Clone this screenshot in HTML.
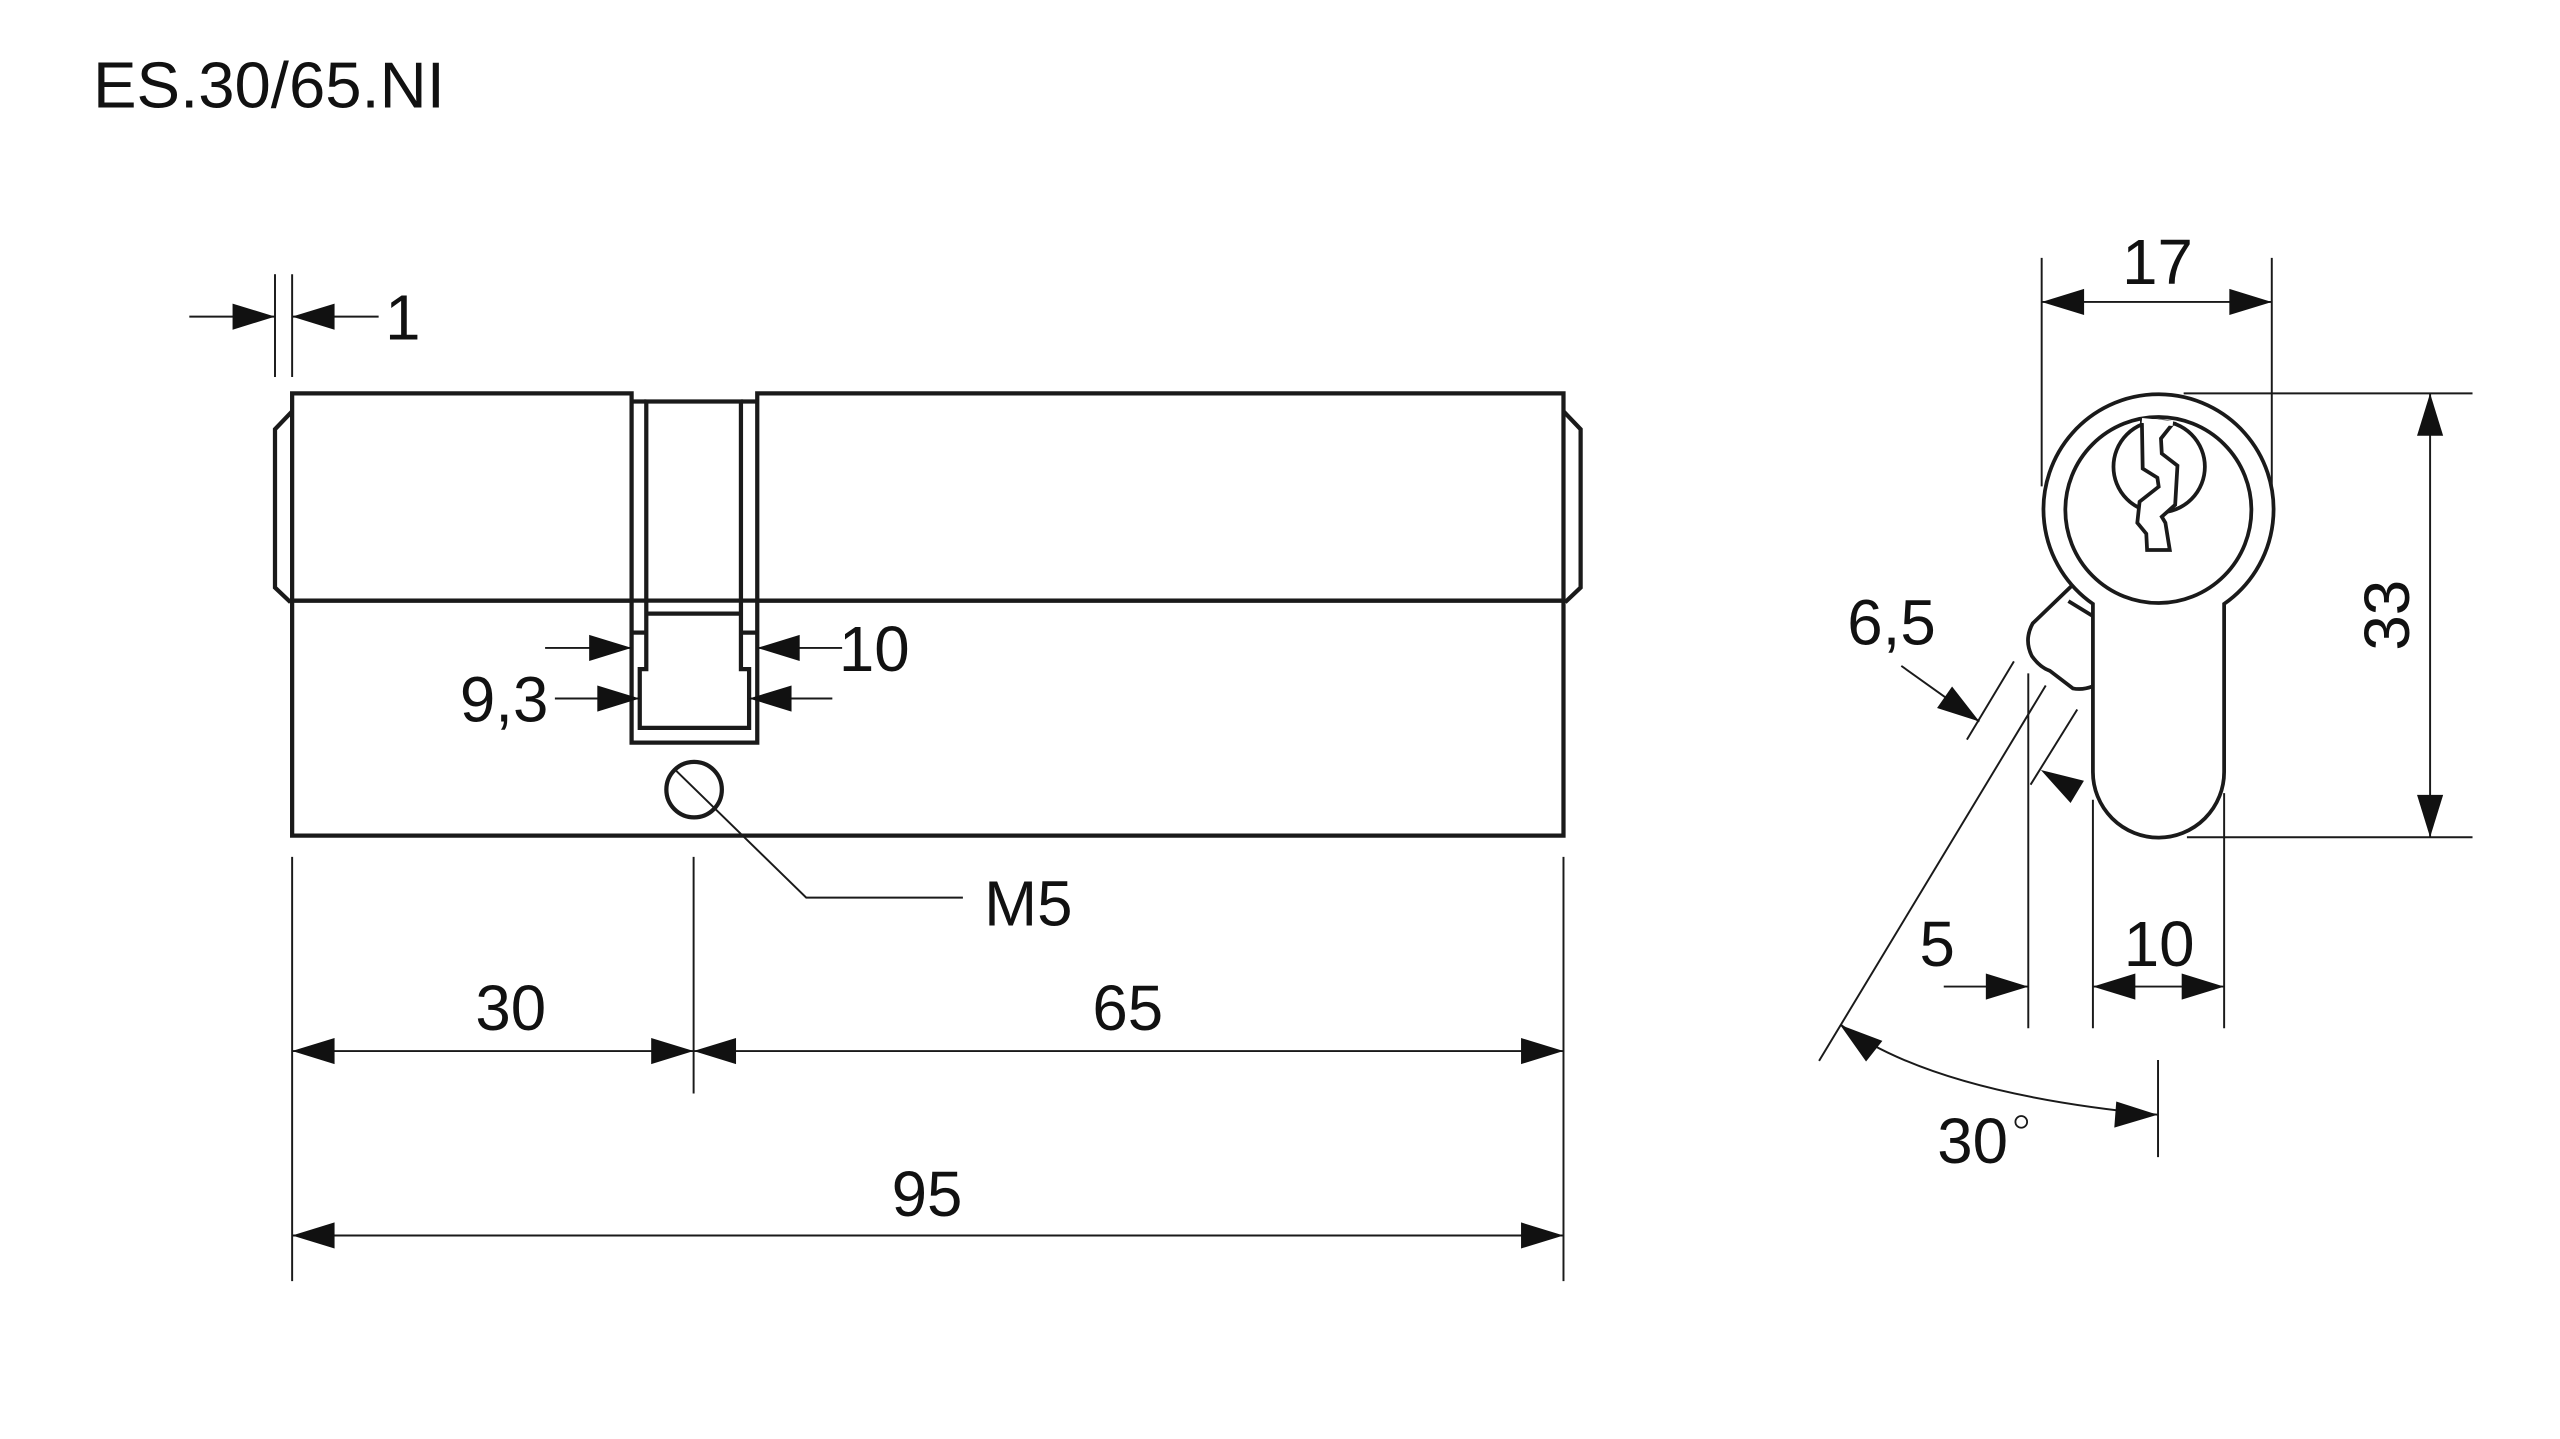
<!DOCTYPE html>
<html><head><meta charset="utf-8"><style>
html,body{margin:0;padding:0;background:#fff;}
svg{display:block;}
text{font-family:"Liberation Sans",Arial,sans-serif;fill:#111;}
</style></head><body>
<svg width="2560" height="1439" viewBox="0 0 1568.6 881.7" xmlns="http://www.w3.org/2000/svg">
<rect x="0" y="0" width="1568.6" height="881.7" fill="#fff"/>
<text x="57" y="66" font-size="40">ES.30/65.NI</text>

<g fill="none" stroke="#1a1a1a" stroke-width="2.6" stroke-linejoin="miter">
  <polyline points="387,368 179,368 179,241 387,241 387,455 464,455 464,241 958,241 958,368 464,368"/>
  <rect x="179" y="368" width="779" height="144"/>
  <polyline points="179,252 168.5,263 168.5,360 178,369"/>
  <polyline points="958,252 968.5,263 968.5,360 959,369"/>
  <polygon points="396,246 454,246 454,410 459,410 459,446 392,446 392,410 396,410"/>
  <line x1="396" y1="376" x2="454" y2="376"/>
  <line x1="387" y1="246" x2="396" y2="246"/>
  <line x1="454" y1="246" x2="464" y2="246"/>
  <line x1="387" y1="387.6" x2="396" y2="387.6"/>
  <line x1="454" y1="387.6" x2="464" y2="387.6"/>
  <circle cx="425.3" cy="483.8" r="17"/>
</g>

<g fill="none" stroke="#1a1a1a" stroke-width="1.2">
  <line x1="168.5" y1="168" x2="168.5" y2="231"/>
  <line x1="179" y1="168" x2="179" y2="231"/>
  <line x1="116" y1="194" x2="168.5" y2="194"/>
  <line x1="179" y1="194" x2="232" y2="194"/>
  <line x1="334" y1="397" x2="387" y2="397"/>
  <line x1="464" y1="397" x2="516" y2="397"/>
  <line x1="340" y1="428" x2="392" y2="428"/>
  <line x1="459" y1="428" x2="510" y2="428"/>
  <polyline points="413,471 494,550 590,550"/>
  <line x1="179" y1="525" x2="179" y2="785"/>
  <line x1="425" y1="525" x2="425" y2="670"/>
  <line x1="958" y1="525" x2="958" y2="785"/>
  <line x1="179" y1="644" x2="958" y2="644"/>
  <line x1="179" y1="757" x2="958" y2="757"/>
</g>
<g fill="#111">
  <polygon points="168.5,194 142.5,186 142.5,202"/>
  <polygon points="179,194 205,186 205,202"/>
  <polygon points="387,397 361,389 361,405"/>
  <polygon points="464,397 490,389 490,405"/>
  <polygon points="392,428 366,420 366,436"/>
  <polygon points="459,428 485,420 485,436"/>
  <polygon points="179,644 205,636 205,652"/>
  <polygon points="425,644 399,636 399,652"/>
  <polygon points="425,644 451,636 451,652"/>
  <polygon points="958,644 932,636 932,652"/>
  <polygon points="179,757 205,749 205,765"/>
  <polygon points="958,757 932,749 932,765"/>
</g>
<text x="236" y="208" font-size="39">1</text>
<text x="514" y="411" font-size="39">10</text>
<text x="336" y="442" font-size="39" text-anchor="end">9,3</text>
<text x="603" y="567" font-size="39">M5</text>
<text x="313" y="631" font-size="39" text-anchor="middle">30</text>
<text x="691" y="631" font-size="39" text-anchor="middle">65</text>
<text x="568" y="745" font-size="39" text-anchor="middle">95</text>

<g fill="none" stroke="#1a1a1a" stroke-width="2.3">
  <path d="M1282.4,370 A70.5,70.5 0 1 1 1362.8,370 L1362.8,473 A40.2,40.2 0 0 1 1282.4,473 Z"/>
  <circle cx="1322.5" cy="312.5" r="57"/>
  <circle cx="1323" cy="286" r="28"/>
  <path d="M1270.1,358.3 L1245.5,382 Q1240,392 1245,402 Q1250,409 1256,411 L1270.1,421.8 Q1276,423 1282.4,420.5"/>
  <line x1="1267.4" y1="368.3" x2="1282.4" y2="377.5"/>
  <polygon fill="#fff" points="1312.4,257.6 1312.9,287.1 1321.9,292.7 1322.7,298.2 1311,307.4 1309.6,320.3 1315.1,327 1315.6,337 1329.5,337 1326.8,320.3 1324.6,316.6 1332.8,309.3 1334.2,285.3 1324.6,277.9 1324.1,268.7 1331.4,259.5"/>
</g>
<line x1="1312.4" y1="257.6" x2="1331.4" y2="259.5" stroke="#fff" stroke-width="3"/>
<g fill="none" stroke="#1a1a1a" stroke-width="1.2">
  <line x1="1251" y1="158" x2="1251" y2="298"/>
  <line x1="1392" y1="158" x2="1392" y2="300"/>
  <line x1="1251" y1="185" x2="1392" y2="185"/>
  <line x1="1338" y1="241" x2="1515" y2="241"/>
  <line x1="1340" y1="513" x2="1515" y2="513"/>
  <line x1="1489" y1="241" x2="1489" y2="513"/>
  <line x1="1165" y1="408" x2="1212.8" y2="442.1"/>
  <line x1="1234" y1="405.2" x2="1205.2" y2="453.2"/>
  <line x1="1272.8" y1="434.7" x2="1244.2" y2="480.8"/>
  <line x1="1114.6" y1="650" x2="1253.5" y2="420"/>
  <line x1="1242.8" y1="412.6" x2="1242.8" y2="630"/>
  <line x1="1282.4" y1="490" x2="1282.4" y2="630"/>
  <line x1="1362.8" y1="486" x2="1362.8" y2="630"/>
  <line x1="1191" y1="604.5" x2="1242.8" y2="604.5"/>
  <line x1="1282.4" y1="604.5" x2="1362.8" y2="604.5"/>
  <line x1="1322.3" y1="649.5" x2="1322.3" y2="709"/>
  <path d="M1128,628 Q1185,670 1322,683"/>
</g>
<g fill="#111">
  <polygon points="1251,185 1277,177 1277,193"/>
  <polygon points="1392,185 1366,177 1366,193"/>
  <polygon points="1489,241 1481,267 1497,267"/>
  <polygon points="1489,513 1481,487 1497,487"/>
  <polygon points="1212.8,442.1 1186.9,433.8 1196.1,420.6"/>
  <polygon points="1250.5,471.8 1276.9,478.4 1268.7,492"/>
  <polygon points="1242.8,604.5 1216.8,596.5 1216.8,612.5"/>
  <polygon points="1282.4,604.5 1308.4,596.5 1308.4,612.5"/>
  <polygon points="1362.8,604.5 1336.8,596.5 1336.8,612.5"/>
  <polygon points="1127.5,628 1143.4,650.4 1153.4,637.8"/>
  <polygon points="1322,683 1295.5,690.9 1296.7,674.9"/>
</g>
<text x="1322" y="174" font-size="39" text-anchor="middle">17</text>
<text x="1159" y="395" font-size="39" text-anchor="middle">6,5</text>
<text x="1187" y="592" font-size="39" text-anchor="middle">5</text>
<text x="1323" y="592" font-size="39" text-anchor="middle">10</text>
<text x="1187" y="712.6" font-size="39">30</text>
<circle cx="1238.5" cy="687.4" r="3.6" fill="none" stroke="#1a1a1a" stroke-width="1.1"/>
<text transform="translate(1476,377) rotate(-90)" font-size="39" text-anchor="middle">33</text>
</svg>
</body></html>
